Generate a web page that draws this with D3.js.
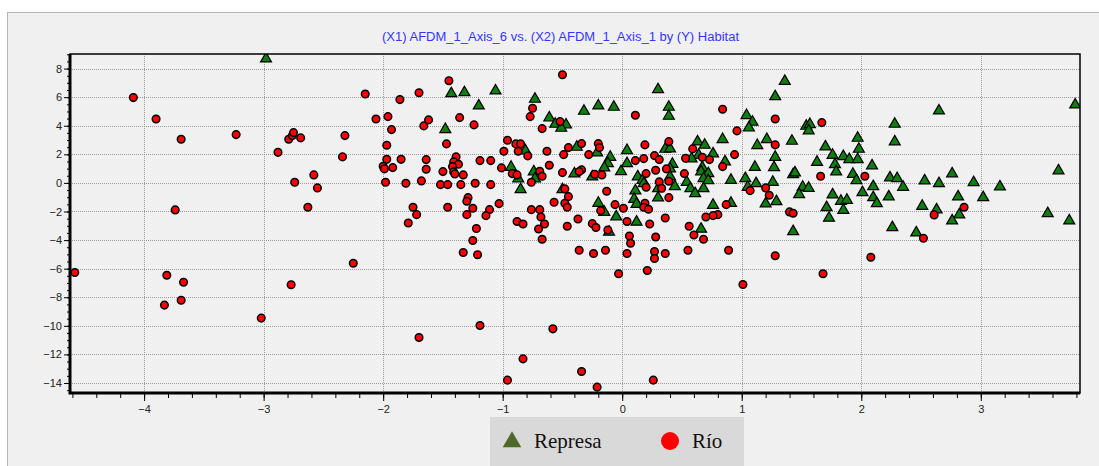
<!DOCTYPE html>
<html>
<head>
<meta charset="utf-8">
<script src="https://cdn.jsdelivr.net/npm/d3@7"></script>
<style>
  body { margin: 0; background: #fff; }
  .grid line { stroke: #9a9a9a; stroke-dasharray: 1,1; }
  .axis text { font: 11px Arial, "Liberation Sans", sans-serif; fill: #222; }
</style>
</head>
<body>
<svg id="chart" width="1099" height="466"></svg>
<script>
// Habitat: Represa (triangles), Río (circles) - [X2 AFDM_1_Axis_1, X1 AFDM_1_Axis_6]
let represa = [
  [-2.98,8.65],[-1.43,6.22],[-1.32,6.29],[-1.06,6.41],[-1.20,5.36],[-0.73,5.83],[-1.48,3.71],[-0.61,4.52],
  [-0.56,4.08],[-0.47,4.03],[-0.51,3.80],[-0.81,2.22],[-0.93,1.07],[-0.87,0.26],[-0.85,-0.49],[-0.74,0.75],
  [-0.73,0.26],[-0.50,-0.49],[0.30,6.50],[-0.32,4.99],[-0.20,5.36],[-0.07,5.27],[0.39,5.27],[0.39,4.64],
  [-0.38,2.47],[-0.21,2.08],[-0.10,1.77],[-0.12,1.33],[-0.15,1.03],[-0.25,0.40],[-0.40,0.61],[0.04,2.24],
  [0.04,1.33],[-0.01,0.77],[0.13,0.40],[0.17,0.16],[0.18,-0.07],[0.30,-0.42],[0.30,-1.07],[0.11,-0.58],
  [0.10,-1.17],[0.12,-1.52],[-0.20,-1.45],[-0.15,-2.08],[-0.11,-3.47],[-0.05,-2.40],[0.12,-2.77],
  [0.63,2.85],[0.69,2.61],[0.84,3.01],[0.76,2.01],[0.64,1.91],[0.58,1.66],[0.36,2.33],[0.40,2.36],
  [0.42,1.28],[0.40,0.96],[0.40,0.40],[0.44,-0.28],[0.54,0.02],[0.57,-0.42],[0.61,-0.77],[0.67,1.05],
  [0.66,0.75],[0.72,0.63],[0.68,0.28],[0.72,0.14],[0.68,-0.42],[0.86,1.45],[0.76,-1.59],[0.66,-3.26],
  [0.91,0.16],[0.91,-1.45],[1.36,7.08],[1.28,6.01],[1.04,4.69],[1.09,4.22],[1.06,3.82],[1.54,3.94],
  [1.57,4.06],[1.56,3.62],[1.21,3.01],[1.13,2.59],[1.42,2.89],[1.28,1.77],[1.27,1.05],[1.11,1.07],
  [1.03,0.28],[1.05,-0.33],[1.12,-0.07],[1.26,0.02],[1.29,-1.33],[1.20,-1.49],[1.43,0.55],[1.445,0.68],
  [1.51,-0.33],[1.56,-0.40],[1.48,-0.84],[1.43,-3.43],[1.70,2.50],[1.63,1.42],[1.76,1.91],[1.78,1.26],
  [1.79,0.75],[1.85,1.82],[1.90,1.61],[1.97,1.61],[1.97,3.10],[1.98,2.33],[2.09,1.17],[1.93,0.58],
  [1.96,0.14],[2.01,-0.70],[2.10,-0.28],[2.10,-1.05],[2.13,-1.47],[1.76,-0.86],[1.83,-1.31],[1.88,-1.24],
  [1.85,-1.94],[1.71,-1.75],[1.73,-2.49],[2.24,0.33],[2.30,0.28],[2.23,-1.00],[2.65,5.01],[2.28,4.08],
  [2.28,2.85],[2.76,0.61],[2.53,0.12],[2.65,-0.07],[2.35,-0.33],[2.94,0.00],[3.16,-0.30],[3.02,-1.05],
  [2.81,-1.00],[3.65,0.82],[3.79,5.43],[3.56,-2.17],[3.74,-2.68],[2.51,-1.66],[2.63,-1.91],[2.82,-2.26],
  [2.76,-2.68],[2.26,-3.15],[2.46,-3.52]
];

let rio = [
  [-4.09,5.97],[-3.90,4.47],[-3.69,3.05],[-3.23,3.38],[-3.74,-1.89],[-2.88,2.14],[-2.79,3.05],[-2.76,3.31],
  [-2.75,3.52],[-2.69,3.15],[-2.74,0.05],[-2.58,0.56],[-2.55,-0.35],[-2.63,-1.70],[-2.34,1.82],[-2.32,3.31],
  [-2.15,6.22],[-2.06,4.47],[-1.96,4.64],[-1.93,3.73],[-1.86,5.83],[-1.97,2.63],[-1.97,1.65],[-2.00,1.17],
  [-1.99,0.98],[-1.92,1.07],[-1.85,1.65],[-1.98,0.05],[-1.81,-0.02],[-1.79,-2.80],
  [-4.58,-6.27],[-3.81,-6.46],[-3.67,-6.95],[-3.83,-8.55],[-3.69,-8.21],[-3.02,-9.46],[-2.77,-7.13],[-2.25,-5.62],
  [-1.45,7.15],[-0.50,7.57],[-1.70,6.31],[-0.75,5.22],[-0.77,4.64],[-1.36,4.57],[-1.62,4.41],[-1.66,3.99],
  [-1.24,4.06],[-0.52,4.29],[-0.67,3.80],[-1.47,2.73],[-0.96,2.98],[-0.89,2.73],[-0.85,2.73],[-0.99,2.22],
  [-0.87,2.22],[-0.79,1.89],[-0.63,2.22],[-0.49,1.98],[-0.45,2.47],[-1.64,1.63],[-1.64,0.96],[-1.39,1.82],
  [-1.41,1.47],[-1.37,1.31],[-1.42,1.14],[-1.41,0.77],[-1.40,0.63],[-1.50,0.79],[-1.33,0.56],[-1.19,1.56],
  [-1.10,1.56],[-1.01,1.05],[-0.92,0.65],[-0.88,0.56],[-0.76,0.05],[-0.69,0.82],[-0.67,0.47],[-0.61,1.24],
  [-0.50,0.72],[-0.48,-0.42],[-0.45,-0.96],[-1.68,0.14],[-1.52,-0.12],[-1.46,-0.12],[-1.35,-0.12],[-1.23,-0.02],
  [-1.10,-0.12],[-1.75,-1.70],[-1.72,-2.22],[-1.46,-1.70],[-1.29,-1.03],[-1.30,-1.28],[-1.25,-1.77],[-1.30,-2.22],
  [-1.11,-1.87],[-1.14,-2.29],[-1.03,-1.45],[-1.22,-3.19],[-1.25,-4.03],[-1.33,-4.87],[-1.21,-5.03],[-0.76,-1.87],
  [-0.69,-1.87],[-0.68,-2.38],[-0.88,-2.70],[-0.83,-2.87],[-0.65,-2.87],[-0.70,-3.22],[-0.67,-3.94],[-0.57,-1.35],
  [-0.48,-1.42],[-0.46,-1.70],[-0.46,-3.03],[-1.19,-9.98],[-1.70,-10.82],[-0.58,-10.21],[-0.83,-12.31],[-0.96,-13.80],
  [0.84,5.15],[0.11,4.73],[-0.34,2.75],[-0.20,2.75],[-0.19,2.47],[-0.28,1.98],[-0.17,0.56],[-0.23,0.61],
  [-0.34,0.91],[-0.36,0.79],[0.11,1.56],[0.18,1.70],[0.19,2.66],[0.27,1.91],[0.31,1.63],[0.28,0.89],
  [0.20,0.65],[0.20,-0.30],[0.31,0.07],[0.33,-0.37],[0.39,-1.03],[0.19,-1.42],[0.18,-1.70],[0.22,-1.84],
  [0.01,-1.77],[-0.06,-1.52],[-0.13,-0.58],[-0.18,-1.94],[-0.37,-2.52],[-0.25,-2.85],[-0.22,-3.12],[-0.12,-3.29],
  [0.04,-2.70],[0.23,-2.87],[0.36,-2.45],[0.06,-3.71],[0.07,-4.22],[0.28,-3.78],[-0.36,-4.71],[-0.24,-4.94],
  [-0.14,-4.71],[0.04,-4.94],[0.27,-4.80],[0.27,-5.29],[0.36,-4.94],[-0.03,-6.36],[0.21,-6.13],[-0.34,-13.20],
  [-0.21,-14.29],[0.26,-13.80],[0.59,2.38],[0.73,1.63],[0.67,1.80],[0.53,1.73],[0.39,2.89],[0.37,0.98],
  [0.39,0.12],[0.52,0.65],[0.84,1.14],[0.87,-1.52],[0.80,-2.22],[0.76,-2.29],[0.70,-2.38],[0.56,-3.03],
  [0.60,-3.64],[0.68,-3.94],[0.55,-4.71],[0.89,-4.71],[0.96,3.64],[0.94,1.98],[1.28,4.47],[1.67,4.22],
  [1.28,2.66],[1.07,-0.54],[1.20,-0.35],[1.23,-0.86],[1.40,-2.03],[1.43,-2.12],[1.28,-5.10],[1.01,-7.11],
  [1.68,-6.36],[1.66,0.47],[2.03,0.47],[2.08,-5.20],[2.61,-2.24],[2.86,-1.70],[2.52,-3.87]
];

let xTicks = [-4, -3, -2, -1, 0, 1, 2, 3];
let yTicks = [8, 6, 4, 2, 0, -2, -4, -6, -8, -10, -12, -14];
let xDomain = [-4.62, 3.83];
let yDomain = [-14.7, 9.02];
let legendItems = ['Represa', 'Río'];
let title = '(X1) AFDM_1_Axis_6 vs. (X2) AFDM_1_Axis_1 by (Y) Habitat';

let plot = {left: 70, right: 1080, top: 54, bottom: 393};

let svg = d3.select('#chart');

// outer panel
svg.append('rect')
  .attr('x', 7.5).attr('y', 12.5)
  .attr('width', 1100).attr('height', 470)
  .attr('fill', '#f0f0f0')
  .attr('stroke', '#b4b4b4');

svg.append('text')
  .attr('x', 382).attr('y', 41)
  .attr('textLength', 357)
  .attr('lengthAdjust', 'spacingAndGlyphs')
  .style('font', '12px Arial, "Liberation Sans", sans-serif')
  .attr('fill', '#3535ff')
  .text(title);

let xScale = d3.scaleLinear().domain(xDomain).range([plot.left, plot.right]);
let yScale = d3.scaleLinear().domain(yDomain).range([plot.bottom, plot.top]);

// grid
let grid = svg.append('g').attr('class', 'grid');
grid.selectAll('.gx').data(xTicks).enter().append('line')
  .attr('x1', (d) => Math.round(xScale(d)) + 0.5).attr('x2', (d) => Math.round(xScale(d)) + 0.5)
  .attr('y1', plot.top).attr('y2', plot.bottom);
grid.selectAll('.gy').data(yTicks).enter().append('line')
  .attr('y1', (d) => Math.round(yScale(d)) + 0.5).attr('y2', (d) => Math.round(yScale(d)) + 0.5)
  .attr('x1', plot.left).attr('x2', plot.right);

// axes: major ticks with labels, then minor ticks
svg.append('g')
  .attr('class', 'axis')
  .attr('transform', 'translate(0,' + plot.bottom + ')')
  .call(d3.axisBottom(xScale).tickValues(xTicks).tickSize(8).tickPadding(4).tickSizeOuter(0))
  .call((g) => g.select('.domain').remove());
svg.append('g')
  .attr('class', 'axis')
  .attr('transform', 'translate(0,' + plot.bottom + ')')
  .call(d3.axisBottom(xScale).ticks(36).tickSize(5).tickFormat('').tickSizeOuter(0))
  .call((g) => g.select('.domain').remove())
  .selectAll('line').filter((d) => d < xDomain[0] || d > xDomain[1]).remove();

svg.append('g')
  .attr('class', 'axis')
  .attr('transform', 'translate(' + plot.left + ',0)')
  .call(d3.axisLeft(yScale).tickValues(yTicks).tickSize(6).tickPadding(2).tickSizeOuter(0))
  .call((g) => g.select('.domain').remove());
svg.append('g')
  .attr('class', 'axis')
  .attr('transform', 'translate(' + plot.left + ',0)')
  .call(d3.axisLeft(yScale).ticks(48).tickSize(3).tickFormat('').tickSizeOuter(0))
  .call((g) => g.select('.domain').remove());

// clip for markers
svg.append('clipPath').attr('id', 'clip')
  .append('rect')
  .attr('x', plot.left).attr('y', plot.top)
  .attr('width', plot.right - plot.left).attr('height', plot.bottom - plot.top);

let marks = svg.append('g').attr('clip-path', 'url(#clip)');

let tri = d3.symbol().type(d3.symbolTriangle).size(52);

marks.selectAll('.represa')
  .data(represa)
  .enter()
  .append('path')
  .attr('class', 'represa')
  .attr('d', tri)
  .attr('transform', (d) => 'translate(' + xScale(d[0]) + ',' + (yScale(d[1]) - 0.5) + ')')
  .attr('fill', '#0f7d0f')
  .attr('stroke', '#000')
  .attr('stroke-width', 1.2);

marks.selectAll('.rio')
  .data(rio)
  .enter()
  .append('circle')
  .attr('class', 'rio')
  .attr('cx', (d) => xScale(d[0]))
  .attr('cy', (d) => yScale(d[1]))
  .attr('r', 3.8)
  .attr('fill', '#ff0000')
  .attr('stroke', '#000')
  .attr('stroke-width', 1.5);

// frame: heavier on left and bottom
svg.append('rect')
  .attr('x', plot.left).attr('y', plot.top)
  .attr('width', plot.right - plot.left).attr('height', plot.bottom - plot.top)
  .attr('fill', 'none').attr('stroke', '#000').attr('stroke-width', 1.5);
svg.append('path')
  .attr('d', 'M' + plot.left + ',' + plot.top + 'V' + plot.bottom + 'H' + plot.right)
  .attr('fill', 'none').attr('stroke', '#000').attr('stroke-width', 3);

// legend
let legend = svg.append('g');
legend.append('rect')
  .attr('x', 490).attr('y', 417)
  .attr('width', 254).attr('height', 60)
  .attr('fill', '#d9d9d9');

let legendX = d3.scalePoint().domain(legendItems).range([512, 670]);

legend.append('path')
  .attr('d', d3.symbol().type(d3.symbolTriangle).size(150))
  .attr('transform', 'translate(' + legendX('Represa') + ',442)')
  .attr('fill', '#4d6a2b');
legend.append('circle')
  .attr('cx', legendX('Río')).attr('cy', 441)
  .attr('r', 9)
  .attr('fill', '#ff0000');

legend.selectAll('.ltext')
  .data(legendItems)
  .enter()
  .append('text')
  .attr('x', (d) => legendX(d) + 22)
  .attr('y', 448)
  .style('font', '21px "Liberation Serif", "Times New Roman", serif')
  .attr('fill', '#111')
  .text((d) => d);
</script>
</body>
</html>
